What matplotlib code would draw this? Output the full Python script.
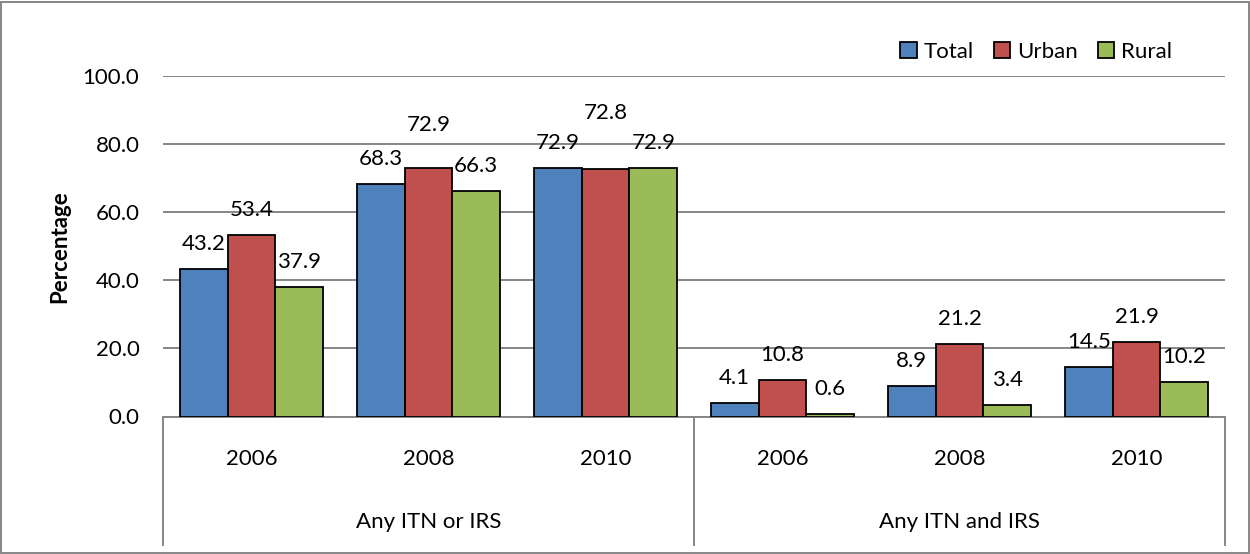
import matplotlib
matplotlib.use("Agg")
import matplotlib.pyplot as plt
import matplotlib.transforms as mtransforms
from matplotlib.patches import Rectangle
import numpy as np

plt.rcParams["font.family"] = ["Lato", "DejaVu Sans"]

# data
groups = ["Any ITN or IRS", "Any ITN and IRS"]
years = ["2006", "2008", "2010"]
series = ["Total", "Urban", "Rural"]
total = [43.2, 68.3, 72.9, 4.1, 8.9, 14.5]
urban = [53.4, 72.9, 72.8, 10.8, 21.2, 21.9]
rural = [37.9, 66.3, 72.9, 0.6, 3.4, 10.2]

colors = ["#4F81BD", "#C0504D", "#9BBB59"]
# extra lift (px) Excel gave to some labels to avoid overlap
lift = [[0] * 6, [0, 18, 31, 0, 0, 0], [0] * 6]
FS = 16

W, H = 1250, 554
fig = plt.figure(figsize=(W / 100, H / 100), dpi=100)
ax = fig.add_axes([163 / W, 1 - 416.5 / H, (1225 - 163) / W, (416.5 - 76) / H])

n = len(total)
x = np.arange(n)
bw = 0.27
for i, (vals, c) in enumerate(zip([total, urban, rural], colors)):
    pos = x + (i - 1) * bw
    ax.bar(pos, vals, bw, color=c, edgecolor="black", linewidth=1.3,
           label=series[i], zorder=3)
    for p, v, d in zip(pos, vals, lift[i]):
        ax.annotate(f"{v:.1f}", (p, v), xytext=(0, (25 + d) * 0.72),
                    textcoords="offset points", ha="center", va="center",
                    fontsize=FS, zorder=4)

ax.set_xlim(-0.5, n - 0.5)
ax.set_ylim(0, 100)
ax.set_yticks(np.arange(0, 101, 20))
ax.set_yticklabels([f"{t:.1f}" for t in np.arange(0, 101, 20)], fontsize=FS)
ax.tick_params(axis="y", length=0, pad=17)
ax.set_xticks([])
ax.grid(axis="y", color="#868686", linewidth=1.4, zorder=0)
ax.set_axisbelow(True)
for s in ax.spines.values():
    s.set_visible(False)
ax.set_ylabel("Percentage", fontsize=FS, fontweight="bold")
ax.yaxis.set_label_coords(-0.087, 0.5)

# multi-level category axis drawn as Excel table
trans = mtransforms.blended_transform_factory(ax.transData, fig.transFigure)
y_top = 1 - 416.5 / H
y_bot = 1 - 545 / H
lc = "#868686"
ax.plot([-0.5, n - 0.5], [y_top, y_top], transform=trans, color=lc,
        lw=1.4, clip_on=False)
for xv in [-0.5, 2.5, n - 0.5]:
    ax.plot([xv, xv], [y_top, y_bot], transform=trans, color=lc,
            lw=1.4, clip_on=False)
for i in range(n):
    ax.text(i, 1 - 459 / H, years[i % 3], transform=trans, ha="center",
            va="center", fontsize=FS)
for g, name in enumerate(groups):
    ax.text(1 + 3 * g, 1 - 522 / H, name, transform=trans, ha="center",
            va="center", fontsize=FS)

fig.legend(loc="center right", bbox_to_anchor=(1192 / W, 1 - 52 / H),
           ncol=3, frameon=False, fontsize=FS, handlelength=0.75,
           handleheight=0.75, handletextpad=0.3, columnspacing=0.9)

# outer chart border
fig.patches.append(Rectangle((1.5 / W, 1.5 / H), 1 - 3 / W, 1 - 3 / H,
                             transform=fig.transFigure, fill=False,
                             edgecolor="#868686", linewidth=1.4))

fig.savefig("out.png", dpi=100)
